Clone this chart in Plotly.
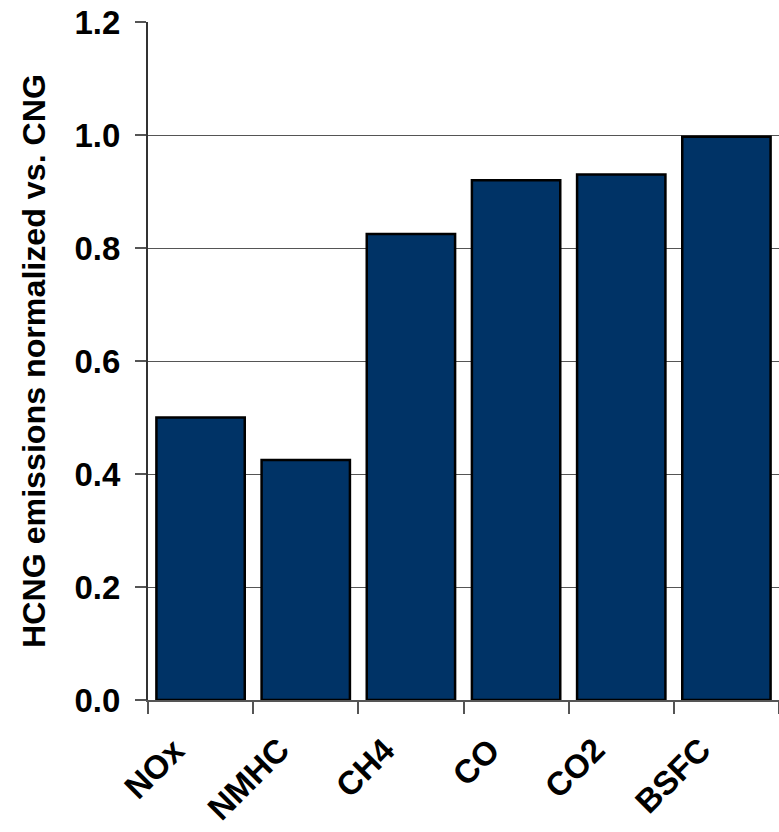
import plotly.graph_objects as go

# HCNG engine results, each normalized against the CNG baseline
categories = ["NOx", "NMHC", "CH4", "CO", "CO2", "BSFC"]
normalized = [0.50, 0.425, 0.825, 0.92, 0.93, 0.997]
y_ticks = [0.0, 0.2, 0.4, 0.6, 0.8, 1.0, 1.2]

font_family = "Liberation Sans, Arial, sans-serif"
label_font = dict(size=33, family=font_family, color="black", weight="bold")

fig = go.Figure(
    go.Bar(
        x=categories,
        y=normalized,
        marker=dict(color="#003366", line=dict(color="#000000", width=2.5)),
    )
)

fig.update_layout(
    width=779,
    height=832,
    margin=dict(l=148, r=0, t=22, b=132),
    paper_bgcolor="white",
    plot_bgcolor="white",
    bargap=0.16,
    showlegend=False,
    font=dict(family=font_family, color="black"),
)

fig.update_yaxes(
    range=[0, 1.2],
    tickvals=y_ticks,
    tickformat=".1f",
    tickfont=label_font,
    ticks="outside",
    ticklen=11,
    tickcolor="#555555",
    tickwidth=1.5,
    ticklabelstandoff=8,
    showline=True,
    linecolor="#333333",
    linewidth=2,
    showgrid=True,
    gridcolor="#555555",
    gridwidth=1.2,
    zeroline=False,
    title=dict(
        text="HCNG emissions normalized vs. CNG",
        font=dict(size=32.2, family=font_family, color="black", weight="bold"),
        standoff=19,
    ),
)

fig.update_xaxes(
    type="category",
    range=[-0.5, len(categories) - 0.5],
    tickson="boundaries",
    ticks="outside",
    ticklen=12,
    tickcolor="#555555",
    tickwidth=1.5,
    showticklabels=False,
    showline=True,
    linecolor="#555555",
    linewidth=1.5,
    showgrid=False,
    zeroline=False,
)

# Slanted category labels, right end tucked just left of each category centre
for cat in categories:
    fig.add_annotation(
        x=cat,
        y=0,
        xref="x",
        yref="y",
        text=cat,
        textangle=-45,
        showarrow=False,
        xanchor="right",
        yanchor="top",
        xshift=-6,
        yshift=-28,
        font=label_font,
    )

fig.write_html("out.html")
